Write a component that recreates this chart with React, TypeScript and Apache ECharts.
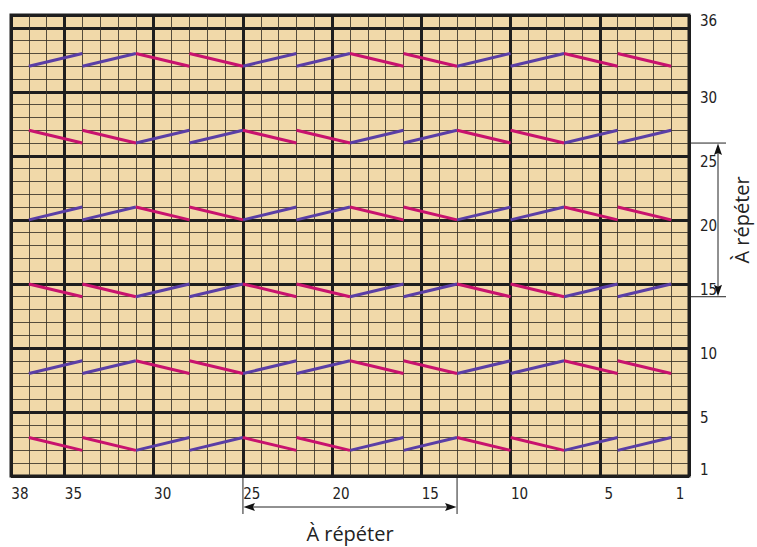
import React, { useEffect, useRef } from "react";
import * as echarts from "echarts";

// Axis labels (stitch numbers at the bottom, row numbers at the right)
const columnCategories = Array.from({ length: 38 }, (_, i) => String(i + 1));
const rowCategories = Array.from({ length: 36 }, (_, i) => String(i + 1));
const columnLabels = ["38", "35", "30", "25", "20", "15", "10", "5", "1"];
const rowLabels = ["36", "30", "25", "20", "15", "10", "5", "1"];

// Zigzag bands: lower grid row of each band, and colour of each 3-stitch segment (P = purple, M = magenta)
const bandBaseRows = [2, 8, 14, 20, 26, 32];
const bandPatterns = [
  "MMPPMMPPMMPP",
  "PPMMPPMMPPMM",
  "MMPPMMPPMMPP",
  "PPMMPPMMPPMM",
  "MMPPMMPPMMPP",
  "PPMMPPMMPPMM",
];
const segmentStarts = [37, 34, 31, 28, 25, 22, 19, 16, 13, 10, 7, 4];
const segmentSpan = 3;
const segmentRise = 1;

// Repeat markers (grid boundaries)
const repeatCols = [25, 13];
const repeatRows = [26, 14];

const PURPLE = "#5a3ea6";
const MAGENTA = "#c8126e";
const TAN = "#f1d9a9";
const DARK = "#1e1e1e";
const NUM_FONT = '"Liberation Sans Narrow", "DejaVu Sans Condensed", "Roboto Condensed", sans-serif';
const TEXT_FONT = '"Open Sans", "Noto Sans", sans-serif';

function buildSegments(kind: string) {
  const out: any[] = [];
  bandBaseRows.forEach((base, b) => {
    const pat = bandPatterns[b];
    segmentStarts.forEach((start, i) => {
      if (pat[i] !== kind) return;
      const end = start - segmentSpan;
      if (kind === "P") {
        out.push({ coords: [[start, base], [end, base + segmentRise]] });
      } else {
        out.push({ coords: [[start, base + segmentRise], [end, base]] });
      }
    });
  });
  return out;
}

export default function App() {
  const ref = useRef<HTMLDivElement>(null);

  useEffect(() => {
    document.body.style.margin = "0";
    const chart = echarts.init(ref.current!, null, { renderer: "svg" });
    const thin = { show: true, lineStyle: { color: "#3a3228", width: 1, opacity: 0.85 } };
    const thick = { show: true, lineStyle: { color: DARK, width: 3 } };
    const hidden = { show: false };
    const option: any = {
      animation: false,
      grid: {
        left: 11,
        top: 15,
        width: 678,
        height: 461,
        show: true,
        backgroundColor: TAN,
        borderColor: DARK,
        borderWidth: 3,
      },
      xAxis: [
        {
          type: "value", min: 0, max: 38, interval: 1, inverse: true, position: "bottom",
          axisLine: hidden, axisTick: hidden, axisLabel: hidden, splitLine: thin,
        },
        {
          type: "value", min: 0, max: 38, interval: 5, inverse: true, position: "bottom",
          axisLine: hidden, axisTick: hidden, axisLabel: hidden, splitLine: thick,
        },
        {
          type: "category", data: columnCategories, inverse: true, position: "bottom",
          axisLine: hidden, axisTick: hidden, splitLine: hidden,
          axisLabel: {
            show: true,
            interval: (_i: number, v: string) => columnLabels.includes(v),
            margin: 10,
            fontSize: 15,
            color: "#222",
            fontFamily: NUM_FONT,
          },
        },
      ],
      yAxis: [
        {
          type: "value", min: 0, max: 36, interval: 1, position: "left",
          axisLine: hidden, axisTick: hidden, axisLabel: hidden, splitLine: thin,
        },
        {
          type: "value", min: 0, max: 36, interval: 5, position: "left",
          axisLine: hidden, axisTick: hidden, axisLabel: hidden, splitLine: thick,
        },
        {
          type: "category", data: rowCategories, position: "right",
          axisLine: hidden, axisTick: hidden, splitLine: hidden,
          axisLabel: {
            show: true,
            interval: (_i: number, v: string) => rowLabels.includes(v),
            margin: 11,
            fontSize: 15,
            color: "#222",
            fontFamily: NUM_FONT,
          },
        },
      ],
      series: [
        {
          type: "lines", coordinateSystem: "cartesian2d", xAxisIndex: 0, yAxisIndex: 0,
          data: buildSegments("P"), z: 5, silent: true,
          lineStyle: { color: PURPLE, width: 3, opacity: 1, curveness: 0 },
        },
        {
          type: "lines", coordinateSystem: "cartesian2d", xAxisIndex: 0, yAxisIndex: 0,
          data: buildSegments("M"), z: 5, silent: true,
          lineStyle: { color: MAGENTA, width: 3, opacity: 1, curveness: 0 },
        },
      ],
    };
    chart.setOption(option);

    const xa = chart.convertToPixel({ xAxisIndex: 0 }, repeatCols[0]) as number;
    const xb = chart.convertToPixel({ xAxisIndex: 0 }, repeatCols[1]) as number;
    const ya = chart.convertToPixel({ yAxisIndex: 0 }, repeatRows[0]) as number;
    const yb = chart.convertToPixel({ yAxisIndex: 0 }, repeatRows[1]) as number;
    const gridRight = 689;
    const gridBottom = 476;
    const arrowY = 507;
    const arrowX = 718;
    const stroke = { stroke: "#222", lineWidth: 1 };
    const fill = { fill: "#111" };
    const L = 12, W = 4;
    const graphic: any[] = [
      // bottom repeat marker
      { type: "line", shape: { x1: xa, y1: gridBottom, x2: xa, y2: 514 }, style: stroke },
      { type: "line", shape: { x1: xb, y1: gridBottom, x2: xb, y2: 514 }, style: stroke },
      { type: "line", shape: { x1: xa + 4, y1: arrowY, x2: xb - 4, y2: arrowY }, style: stroke },
      { type: "polygon", shape: { points: [[xa + 0.5, arrowY], [xa + L, arrowY - W], [xa + L - 2, arrowY], [xa + L, arrowY + W]] }, style: fill },
      { type: "polygon", shape: { points: [[xb - 0.5, arrowY], [xb - L, arrowY - W], [xb - L + 2, arrowY], [xb - L, arrowY + W]] }, style: fill },
      {
        type: "text", x: (xa + xb) / 2, y: 533,
        style: { text: "À répéter", fontSize: 20, fontFamily: TEXT_FONT, fill: "#222", align: "center", verticalAlign: "middle" },
      },
      // right repeat marker
      { type: "line", shape: { x1: gridRight, y1: ya, x2: 726, y2: ya }, style: stroke },
      { type: "line", shape: { x1: gridRight, y1: yb, x2: 726, y2: yb }, style: stroke },
      { type: "line", shape: { x1: arrowX, y1: ya + 4, x2: arrowX, y2: yb - 4 }, style: stroke },
      { type: "polygon", shape: { points: [[arrowX, ya + 0.5], [arrowX - W, ya + L], [arrowX, ya + L - 2], [arrowX + W, ya + L]] }, style: fill },
      { type: "polygon", shape: { points: [[arrowX, yb - 0.5], [arrowX - W, yb - L], [arrowX, yb - L + 2], [arrowX + W, yb - L]] }, style: fill },
      {
        type: "text", x: 741, y: (ya + yb) / 2, rotation: Math.PI / 2,
        style: { text: "À répéter", fontSize: 20, fontFamily: TEXT_FONT, fill: "#222", align: "center", verticalAlign: "middle" },
      },
    ];
    chart.setOption({ graphic });

    return () => chart.dispose();
  }, []);

  return <div ref={ref} style={{ width: 757, height: 547 }} />;
}
